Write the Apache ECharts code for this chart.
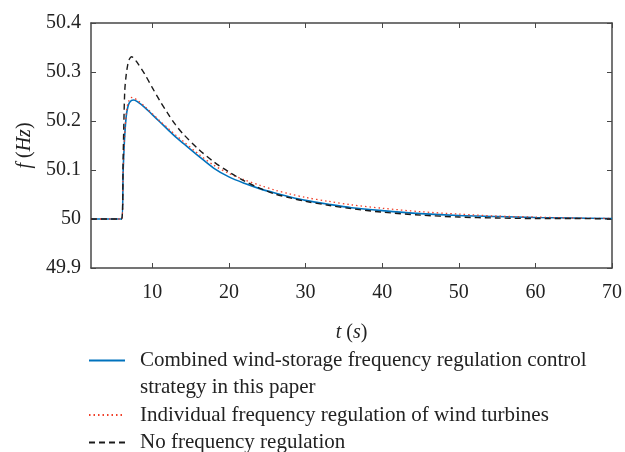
<!DOCTYPE html>
<html>
<head>
<meta charset="utf-8">
<script src="https://cdn.jsdelivr.net/npm/echarts@6/dist/echarts.min.js"></script>
<style>
  html, body { margin: 0; padding: 0; background: #fff; }
  #chart1 { width: 625px; height: 452px; }
</style>
</head>
<body>
<div id="chart1"></div>
<script>
// time (s)
var timeData = [2, 6, 6.2, 6.4, 6.6, 6.8, 7, 7.3, 7.6, 8, 9, 10, 11, 12, 13, 14, 16, 18, 20, 22, 24, 26, 28, 30, 33, 36, 40, 45, 50, 55, 60, 65, 70];
// frequency (Hz)
var combinedData = [50, 50, 50.10, 50.17, 50.21, 50.228, 50.237, 50.242, 50.243, 50.240, 50.228, 50.213, 50.198, 50.183, 50.168, 50.155, 50.129, 50.104, 50.086, 50.073, 50.062, 50.053, 50.045, 50.038, 50.030, 50.023, 50.017, 50.011, 50.007, 50.005, 50.003, 50.002, 50.001];
var windOnlyData = [50, 50, 50.10, 50.175, 50.215, 50.235, 50.243, 50.248, 50.247, 50.243, 50.230, 50.215, 50.200, 50.186, 50.172, 50.159, 50.133, 50.110, 50.093, 50.080, 50.069, 50.059, 50.051, 50.044, 50.036, 50.029, 50.022, 50.015, 50.010, 50.006, 50.004, 50.002, 50.001];
var noRegData = [50, 50, 50.13, 50.26, 50.295, 50.315, 50.326, 50.331, 50.328, 50.320, 50.296, 50.268, 50.241, 50.216, 50.193, 50.174, 50.143, 50.117, 50.096, 50.078, 50.063, 50.051, 50.043, 50.036, 50.028, 50.021, 50.014, 50.008, 50.004, 50.002, 50.001, 50.001, 50.0];
var xTicks = [10, 20, 30, 40, 50, 60, 70];
var seriesNames = [
    'Combined wind-storage frequency regulation control strategy in this paper',
    'Individual frequency regulation of wind turbines',
    'No frequency regulation'
];

function pairs(values) {
    var out = [];
    for (var i = 0; i < timeData.length; i++) {
        out.push([timeData[i], values[i]]);
    }
    return out;
}

var chart1 = echarts.init(document.getElementById('chart1'));
var serif = 'Liberation Serif';
var frameColor = '#474747';
var fs = 20;

var option = {
    animation: false,
    backgroundColor: '#fff',
    grid: { left: 91, right: 8, top: 23, bottom: 184 },
    legend: {
        orient: 'vertical',
        left: 88,
        top: 320,
        padding: 0,
        itemWidth: 36,
        itemHeight: 12,
        itemGap: 0.5,
        data: seriesNames,
        itemStyle: { opacity: 0 },
        textStyle: {
            fontFamily: serif,
            fontSize: 21,
            lineHeight: 27,
            color: '#222',
            padding: [0, 0, 0, 10]
        },
        formatter: function (name) {
            if (name === seriesNames[0]) {
                return '\nCombined wind-storage frequency regulation control\nstrategy in this paper';
            }
            return name;
        }
    },
    xAxis: [{
        type: 'value',
        min: 2,
        max: 70,
        name: '{i|t} ({i|s})',
        nameLocation: 'middle',
        nameGap: 55,
        nameTextStyle: {
            fontFamily: serif, fontSize: fs, color: '#222',
            rich: { i: { fontFamily: serif, fontSize: fs, fontStyle: 'italic', color: '#222' } }
        },
        axisLine: { lineStyle: { color: frameColor, width: 1.5 } },
        axisTick: { inside: true, length: 5, customValues: xTicks, lineStyle: { color: frameColor } },
        axisLabel: { customValues: xTicks, margin: 15, fontFamily: serif, fontSize: fs, color: '#222' },
        splitLine: { show: false }
    }, {
        type: 'value',
        position: 'top',
        min: 2,
        max: 70,
        axisLine: { show: true, lineStyle: { color: frameColor, width: 1.5 } },
        axisTick: { show: true, inside: true, length: 5, customValues: xTicks, lineStyle: { color: frameColor } },
        axisLabel: { show: false },
        splitLine: { show: false }
    }],
    yAxis: [{
        type: 'value',
        min: 49.9,
        max: 50.4,
        interval: 0.1,
        name: '{i|f} ({i|Hz})',
        nameLocation: 'middle',
        nameGap: 56,
        nameTextStyle: {
            fontFamily: serif, fontSize: fs, color: '#222',
            rich: { i: { fontFamily: serif, fontSize: fs, fontStyle: 'italic', color: '#222' } }
        },
        axisLine: { show: true, lineStyle: { color: frameColor, width: 1.5 } },
        axisTick: { show: true, inside: true, length: 5, lineStyle: { color: frameColor } },
        axisLabel: { margin: 10, fontFamily: serif, fontSize: fs, color: '#222' },
        splitLine: { show: false }
    }, {
        type: 'value',
        position: 'right',
        min: 49.9,
        max: 50.4,
        interval: 0.1,
        axisLine: { show: true, lineStyle: { color: frameColor, width: 1.5 } },
        axisTick: { show: true, inside: true, length: 5, lineStyle: { color: frameColor } },
        axisLabel: { show: false },
        splitLine: { show: false }
    }],
    series: [{
        name: seriesNames[0],
        type: 'line',
        data: pairs(combinedData),
        symbol: 'none',
        smooth: 0.3,
        lineStyle: { color: '#0072BD', width: 1.6 },
        itemStyle: { color: '#0072BD' }
    }, {
        name: seriesNames[1],
        type: 'line',
        data: pairs(windOnlyData),
        symbol: 'none',
        smooth: 0.3,
        lineStyle: { color: '#f0402a', width: 1.3, type: [1.5, 3] },
        itemStyle: { color: '#f0402a' }
    }, {
        name: seriesNames[2],
        type: 'line',
        data: pairs(noRegData),
        symbol: 'none',
        smooth: 0.3,
        lineStyle: { color: '#1a1a1a', width: 1.4, type: [6, 4] },
        itemStyle: { color: '#1a1a1a' }
    }]
};
chart1.setOption(option, true);
</script>
</body>
</html>
